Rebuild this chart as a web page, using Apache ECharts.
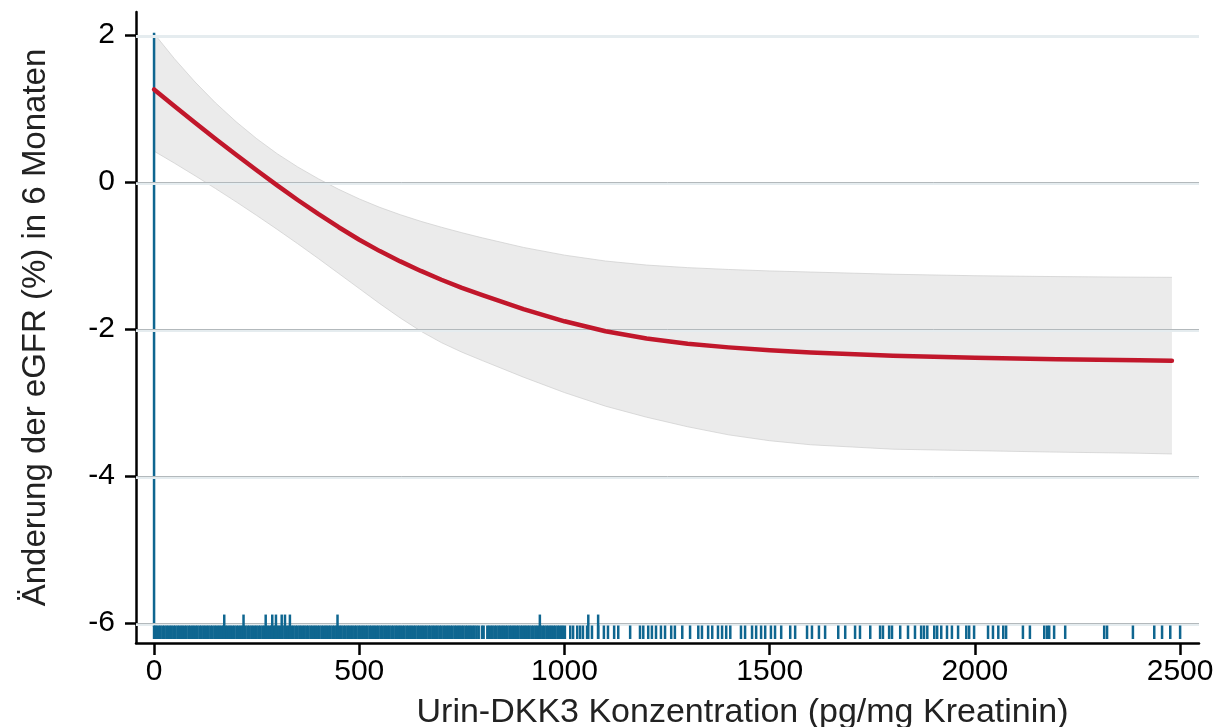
<!DOCTYPE html>
<html><head><meta charset="utf-8">
<script src="https://cdn.jsdelivr.net/npm/echarts@6/dist/echarts.min.js"></script>
<style>html,body{margin:0;padding:0;background:#fff;overflow:hidden}#c{width:1230px;height:727px}</style>
</head><body><div id="c"></div>
<script>
// ---- data ----
const xTicks = [0, 500, 1000, 1500, 2000, 2500];
const yTicks = [2, 0, -2, -4, -6];
const gridValues = [2, 0, -2, -4, -6];

const fitX   = [0, 50, 100, 150, 200, 250, 300, 350, 400, 450, 500, 550, 600, 650, 700, 750, 800, 900, 1000, 1100, 1200, 1300, 1400, 1500, 1600, 1800, 2000, 2200, 2400, 2480];
const fitY   = [1.26, 1.03, 0.805, 0.585, 0.37, 0.16, -0.045, -0.245, -0.435, -0.615, -0.785, -0.94, -1.08, -1.21, -1.33, -1.44, -1.54, -1.73, -1.895, -2.03, -2.13, -2.20, -2.25, -2.29, -2.32, -2.365, -2.392, -2.41, -2.425, -2.432];
const ciUpper= [2.02, 1.675, 1.36, 1.075, 0.82, 0.59, 0.385, 0.205, 0.045, -0.10, -0.23, -0.345, -0.445, -0.535, -0.615, -0.69, -0.76, -0.89, -0.995, -1.075, -1.13, -1.165, -1.19, -1.21, -1.225, -1.255, -1.275, -1.287, -1.295, -1.297];
const ciLower= [0.42, 0.255, 0.085, -0.09, -0.27, -0.455, -0.645, -0.84, -1.04, -1.245, -1.45, -1.655, -1.85, -2.03, -2.185, -2.315, -2.43, -2.655, -2.865, -3.05, -3.20, -3.33, -3.44, -3.52, -3.575, -3.635, -3.655, -3.675, -3.69, -3.70];

const rugShort = [
 0,3,7,12,16,21,25,30,34,39,43,48,52,57,61,66,70,75,79,84,88,93,97,
 102,106,111,115,120,124,129,133,138,142,147,151,156,160,165,169,174,178,183,187,192,196,
 201,205,210,214,219,223,228,232,237,241,246,250,255,259,264,268,273,277,282,286,291,295,
 300,304,309,313,318,322,327,331,336,340,345,349,354,358,363,367,372,376,381,385,390,394,399,
 403,408,412,417,421,426,430,435,439,444,448,453,457,462,466,471,475,480,484,489,493,498,
 502,507,511,516,520,525,529,534,538,543,547,552,556,561,565,570,574,579,583,588,592,597,
 601,606,610,615,619,624,628,633,637,642,646,651,655,660,664,669,673,678,682,687,691,696,
 700,705,709,714,718,723,727,732,736,741,745,750,754,759,763,768,772,777,781,786,791,799,
 803,812,816,821,825,830,834,839,843,848,852,857,861,866,870,875,879,884,888,893,897,
 902,906,911,915,920,924,929,933,938,942,947,951,956,960,965,969,974,978,983,987,992,996,1001,
 1014,1021,1031,1038,1045,1055,1067,1082,1096,1106,1121,1131,1160,1184,1192,1204,1213,1223,
 1235,1245,1260,1269,1287,1306,1326,1335,1350,1360,1374,1384,1394,1404,1430,1440,1457,1467,
 1479,1489,1503,1513,1528,1550,1562,1591,1603,1620,1635,1667,1684,1708,1720,1745,
 1769,1776,1791,1798,1818,1837,1854,1869,1876,1884,1901,1908,1918,1932,1944,1959,1979,1986,1998,
 2032,2044,2057,2069,2076,2117,2134,2169,2176,2181,2193,2220,2315,2322,2385,2437,2456,2476,2500
];
const rugTall = [171, 218, 272, 288, 297, 311, 319, 331, 447, 940, 1058, 1082];

// ---- chart ----
const FONT = '"Liberation Sans", Arial, Helvetica, sans-serif';
const BLUE = '#0f6690';
const RED = '#c1172b';
const chart = echarts.init(document.getElementById('c'), null, {renderer: 'canvas'});

const fitData = fitX.map((x, i) => [x, fitY[i]]);
const upData = fitX.map((x, i) => [x, ciUpper[i]]);
const loData = fitX.map((x, i) => [x, ciLower[i]]);

const gridLight = gridValues.map(v => ({yAxis: v - 0.024}));
const gridDark = gridValues.filter(v => v !== 2).map(v => ({yAxis: v}));

function rugItem(top) {
  return function (params, api) {
    const x = api.value(0);
    const a = api.coord([x, top]);
    const b = api.coord([x, -6.218]);
    return {type: 'rect', shape: {x: a[0] - 1.25, y: a[1], width: 2.5, height: b[1] - a[1]}, style: {fill: BLUE}};
  };
}

chart.setOption({
  animation: false,
  grid: {left: 136, right: 31, top: 12, bottom: 84, containLabel: false, outerBoundsMode: 'none'},
  xAxis: {
    type: 'value', min: -44, max: 2546,
    axisLine: {onZero: false, lineStyle: {color: '#000', width: 2.5}},
    axisTick: {customValues: xTicks, length: 12, lineStyle: {color: '#000', width: 2.5}},
    axisLabel: {customValues: xTicks, fontSize: 30, color: '#000', margin: 14, fontFamily: FONT,
      formatter: v => String(v)},
    splitLine: {show: false},
    name: 'Urin-DKK3 Konzentration (pg/mg Kreatinin)',
    nameLocation: 'middle', nameGap: 53,
    nameTextStyle: {fontSize: 34, color: '#222', fontFamily: FONT, padding: [0, 0, 0, 150]}
  },
  yAxis: {
    type: 'value', min: -6.272, max: 2.313,
    axisLine: {onZero: false, lineStyle: {color: '#000', width: 2.5}},
    axisTick: {customValues: yTicks, length: 11, lineStyle: {color: '#000', width: 2.5}},
    axisLabel: {customValues: yTicks, fontSize: 30, color: '#000', margin: 21, fontFamily: FONT,
      formatter: v => String(v)},
    splitLine: {show: false},
    name: 'Änderung der eGFR (%) in 6 Monaten',
    nameLocation: 'middle', nameGap: 84, nameRotate: 90,
    nameTextStyle: {fontSize: 33, color: '#222', fontFamily: FONT}
  },
  series: [
    { // gridlines
      type: 'line', data: [], z: 1, silent: true,
      markLine: {silent: true, symbol: 'none', label: {show: false}, animation: false,
        lineStyle: {color: '#e5ecef', width: 3, type: 'solid'}, data: gridLight}
    },
    {
      type: 'line', data: [], z: 1, silent: true,
      markLine: {silent: true, symbol: 'none', label: {show: false}, animation: false,
        lineStyle: {color: '#b3b9bc', width: 1, type: 'solid'}, data: gridDark}
    },
    { // CI band
      type: 'custom', data: [[0, 0]], z: 2, silent: true,
      renderItem: function (params, api) {
        const pts = [];
        for (let i = 0; i < upData.length; i++) pts.push(api.coord(upData[i]));
        for (let i = loData.length - 1; i >= 0; i--) pts.push(api.coord(loData[i]));
        return {type: 'polygon', shape: {points: pts, smooth: 0}, style: {fill: '#ebebeb'}};
      }
    },
    {type: 'line', data: upData, z: 3, symbol: 'none', silent: true, lineStyle: {color: '#cdcdcd', width: 0.7}},
    {type: 'line', data: loData, z: 3, symbol: 'none', silent: true, lineStyle: {color: '#cdcdcd', width: 0.7}},
    { // vertical reference line at 0
      type: 'line', data: [[0, 2.03], [0, -6.05]], z: 4, symbol: 'none', silent: true,
      lineStyle: {color: BLUE, width: 2.5}
    },
    { // fitted line
      type: 'line', data: fitData, z: 5, symbol: 'none', smooth: false, silent: true,
      lineStyle: {color: RED, width: 4.5, cap: 'round', join: 'round'}
    },
    { // rug
      type: 'custom', data: rugShort.map(v => [v, -6.1]), z: 6, silent: true,
      renderItem: rugItem(-6.034)
    },
    {
      type: 'custom', data: rugTall.map(v => [v, -6.0]), z: 6, silent: true,
      renderItem: rugItem(-5.885)
    }
  ]
});
</script>
</body></html>
